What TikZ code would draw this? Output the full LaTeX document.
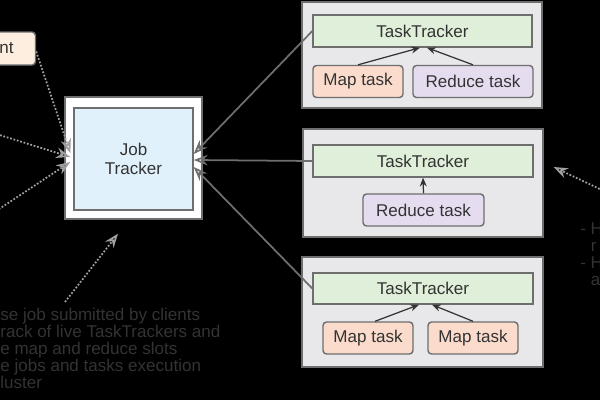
\documentclass[tikz,border=0pt]{standalone}
\usepackage{fontspec}
\setmainfont{Liberation Sans}
\usetikzlibrary{arrows.meta, positioning, calc}

\definecolor{ttgreen}{HTML}{DFEFD9}
\definecolor{mappeach}{HTML}{FADBCC}
\definecolor{redlilac}{HTML}{E6DCEF}
\definecolor{grpgray}{HTML}{E8E8EA}
\definecolor{jtblue}{HTML}{E0F1FB}
\definecolor{clientpeach}{HTML}{FDEEDF}
\definecolor{edgegray}{HTML}{6E6E6E}
\definecolor{txtgray}{HTML}{333333}
\definecolor{dotgray}{HTML}{A0A0A0}

\begin{document}
\begin{tikzpicture}[x=0.02cm, y=-0.02cm,
    box/.style={draw=edgegray, line width=0.8pt, text=txtgray, inner sep=0pt,
      font=\fontsize{9.7}{11}\selectfont},
    group/.style={box, fill=grpgray, minimum width=4.8cm},
    tracker/.style={box, fill=ttgreen, minimum width=4.4cm, minimum height=0.64cm},
    maptask/.style={box, fill=mappeach, rounded corners=2pt, minimum width=1.8cm, minimum height=0.64cm},
    redtask/.style={box, fill=redlilac, rounded corners=2pt, minimum width=2.42cm, minimum height=0.64cm},
    feed/.style={-{Stealth[length=5pt, width=4pt]}, draw=txtgray, line width=0.7pt},
    report/.style={-{Stealth[open, length=8pt, width=6pt]}, draw=edgegray, line width=1pt},
    hint/.style={-{Stealth[open, length=8pt, width=6pt]}, draw=dotgray, densely dotted, line width=1pt},
    remark/.style={font=\fontsize{9.7}{9.7}\selectfont, text=txtgray, align=left, inner sep=0pt}
  ]

    \fill[black] (0, 0) rectangle (600, 400);
    \useasboundingbox (0, 0) rectangle (600, 400);
    \clip (0, 0) rectangle (600, 400);

    % client and job tracker
    \node[box, fill=clientpeach, rounded corners=2pt, minimum width=1.9cm, minimum height=0.66cm,
      text width=1.02cm, align=right] (client) at (-12, 48.5) {nt};

    \node[box, fill=white, minimum width=2.74cm, minimum height=2.44cm] (jtframe) at (133.5, 158) {};
    \node[box, fill=jtblue, minimum width=2.38cm, minimum height=2.04cm, align=center] (jt) at (133.5, 159) {Job\\Tracker};

    % first task tracker
    \node[group, minimum height=2.12cm] (g1) at (422, 55) {};
    \node[tracker, minimum width=4.38cm] (tt1) at (422.5, 31) {TaskTracker};
    \node[maptask] (map1) at (358, 81.5) {Map task};
    \node[redtask, minimum width=2.4cm] (red1) at (473, 81.5) {Reduce task};

    % second task tracker
    \node[group, minimum height=2.16cm] (g2) at (423, 183) {};
    \node[tracker] (tt2) at (423, 161) {TaskTracker};
    \node[redtask] (red2) at (423.5, 210) {Reduce task};

    % third task tracker
    \node[group, minimum width=4.82cm, minimum height=2.2cm] (g3) at (422.5, 312) {};
    \node[tracker, minimum height=0.62cm] (tt3) at (423, 288.5) {TaskTracker};
    \node[maptask] (map3a) at (368, 338) {Map task};
    \node[maptask] (map3b) at (473, 338) {Map task};

    \draw[feed] (map1.north) -- ([xshift=-0.05cm]tt1.south);
    \draw[feed] (red1.north) -- ([xshift=0.09cm]tt1.south);
    \draw[feed] (red2.north) -- (tt2.south);
    \draw[feed] ([xshift=0.14cm]map3a.north) -- ([xshift=-0.08cm]tt3.south);
    \draw[feed] (map3b.north) -- ([xshift=0.18cm]tt3.south);

    \draw[report] (tt1.west) -- ([yshift=0.1cm]jt.east);
    \draw[report] (tt2.west) -- ([yshift=-0.02cm]jt.east);
    \draw[report] (tt3.west) -- ([yshift=-0.16cm]jt.east);

    % notes
    \node[remark, anchor=north west] (notes) at (0, 308)
      {se job submitted by clients\\rack of live TaskTrackers and\\e map and reduce slots\\e jobs and tasks execution\\luster};
    \node[remark, anchor=north west] (beat) at (580, 222)
      {- H\\\hphantom{- }r\\- H\\\hphantom{- }a};

    \coordinate (srcA) at (-10, 132);
    \coordinate (srcB) at (-10, 215);
    \coordinate (jtmark) at ($(jtframe.south)+(-15.5, 14)$);
    \coordinate (srcR) at (606, 192);

    \draw[hint] ([yshift=-0.06cm]client.east) -- ([xshift=-0.06cm, yshift=0.12cm]jt.west);
    \draw[hint] (srcA) -- ([xshift=-0.06cm, yshift=0.04cm]jt.west);
    \draw[hint] (srcB) -- ([xshift=-0.06cm, yshift=-0.06cm]jt.west);
    \draw[hint] ([xshift=1.3cm, yshift=0.12cm]notes.north west) -- (jtmark);
    \draw[hint] (srcR) -- ($(g2.east)+(10, -16)$);

\end{tikzpicture}
\end{document}
